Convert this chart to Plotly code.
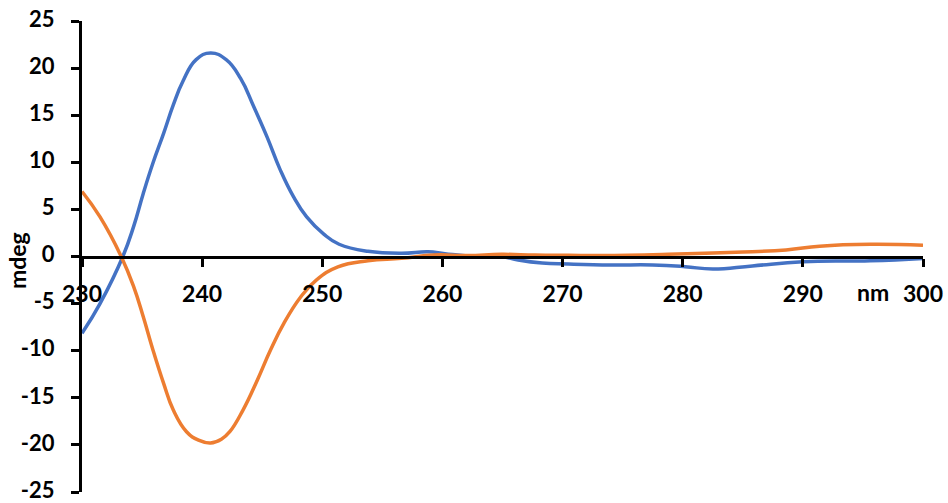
import plotly.graph_objects as go

# Blue series (nm, mdeg)
blue_nm = [230, 231.5, 233.4, 234.3, 235.1, 235.9, 236.8, 237.6, 238.4, 239.5, 240.7,
           242.0, 243.2, 244.3, 245.4, 246.5, 247.6, 248.7, 250.1, 251.4, 253.8, 256.6,
           258.8, 260.2, 262.1, 264.9, 266.3, 268.3, 270.5, 274.0, 277.5, 280.2, 282.5,
           285.8, 290.0, 295.6, 300]
blue_mdeg = [-8.15, -5.0, 0.0, 3.2, 6.7, 9.9, 13.1, 16.1, 18.6, 20.9, 21.6,
             20.9, 18.9, 15.9, 12.7, 9.2, 6.35, 4.2, 2.4, 1.3, 0.55, 0.34,
             0.5, 0.3, 0.05, 0.0, -0.37, -0.7, -0.8, -0.9, -0.9, -1.08, -1.33,
             -1.0, -0.55, -0.45, -0.2]

# Orange series (nm, mdeg)
orange_nm = [230, 231.5, 233.3, 234.3, 235.1, 235.9, 236.8, 237.6, 238.7, 239.7, 240.7,
             241.6, 242.3, 243.4, 244.6, 245.7, 246.8, 248.2, 249.5, 251.3, 253.8, 256.6,
             259.3, 262.1, 264.9, 267.7, 270.5, 273.3, 278.8, 284.4, 288.6, 291.4, 295.6, 300]
orange_mdeg = [6.9, 4.2, -0.1, -3.2, -6.4, -9.9, -13.5, -16.3, -18.6, -19.5, -19.8,
               -19.4, -18.6, -16.3, -13.1, -9.9, -7.1, -4.3, -2.5, -1.1, -0.45, -0.2,
               0.16, 0.1, 0.23, 0.15, 0.12, 0.1, 0.23, 0.45, 0.7, 1.1, 1.3, 1.2]

x_ticks = [230, 240, 250, 260, 270, 280, 290, 300]
y_ticks = [-25, -20, -15, -10, -5, 0, 5, 10, 15, 20, 25]

FONT = "Lato"
FS = 23

fig = go.Figure()
fig.add_trace(go.Scatter(x=blue_nm, y=blue_mdeg, mode="lines",
                         line=dict(color="#4472C4", width=3.5, shape="spline", smoothing=1.3),
                         showlegend=False))
fig.add_trace(go.Scatter(x=orange_nm, y=orange_mdeg, mode="lines",
                         line=dict(color="#ED7D31", width=3.5, shape="spline", smoothing=1.3),
                         showlegend=False))

tf = dict(family=FONT, size=FS, color="black", weight="bold")
tfy = dict(family=FONT, size=22, color="black", weight="bold")

fig.update_layout(
    width=948, height=503,
    margin=dict(l=82, r=25, t=21, b=11, autoexpand=False),
    plot_bgcolor="white", paper_bgcolor="white",
    font=tf,
    xaxis=dict(range=[230, 300], tickvals=x_ticks, ticktext=[str(v) for v in x_ticks],
               showgrid=False, zeroline=False, showline=True, linecolor="black", linewidth=3,
               ticks="outside", ticklen=8, tickwidth=3, tickcolor="black",
               anchor="free", position=0.5, ticklabelstandoff=8, automargin=False,
               ticklabeloverflow="allow", tickfont=tf),
    yaxis=dict(range=[-25, 25], tickvals=y_ticks, ticktext=[str(v) for v in y_ticks],
               showgrid=False, zeroline=False, showline=True, linecolor="black", linewidth=3,
               ticks="outside", ticklen=8, tickwidth=3, tickcolor="black", automargin=False,
               ticklabelstandoff=12, ticklabelshift=-2, ticklabeloverflow="allow", tickfont=tfy),
    annotations=[
        dict(text="mdeg", xref="paper", yref="paper", x=-0.0773, y=0.4926,
             xanchor="center", yanchor="middle", textangle=-90, showarrow=False,
             font=dict(family=FONT, size=FS, color="black", weight="bold")),
        dict(text="nm", xref="paper", yref="paper", x=0.9405, y=0.4246,
             xanchor="center", yanchor="middle", showarrow=False,
             font=dict(family=FONT, size=FS, color="black", weight="bold")),
    ],
)

fig.write_html("out.html")
